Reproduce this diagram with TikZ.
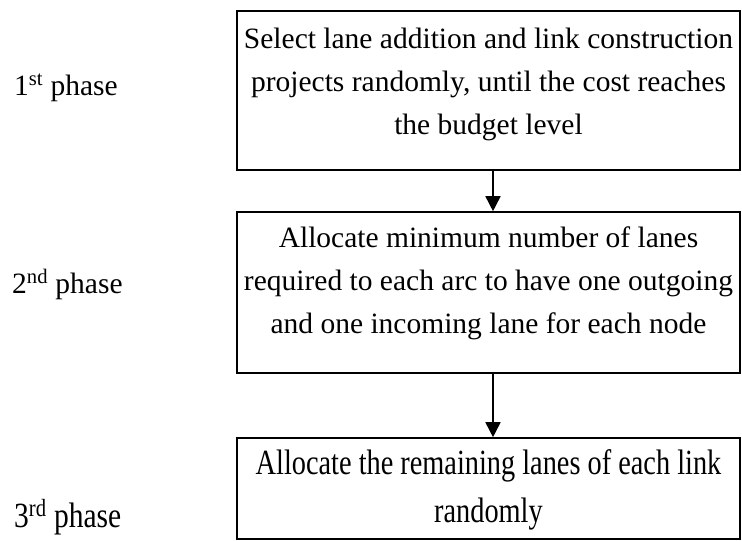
\documentclass[tikz,border=0pt]{standalone}
\usepackage{graphicx}
\usepackage{fontspec}
\setmainfont{Liberation Serif}
\usetikzlibrary{arrows.meta}
\tikzset{
  stage/.style={draw,line width=1.6pt,minimum width=503pt,inner sep=0pt,font=\fontsize{29.5}{43}\selectfont},
  phase/.style={anchor=base west,inner sep=0pt,font=\fontsize{29.5}{43}\selectfont},
  flow/.style={line width=1.6pt,-{Triangle[length=15pt,width=15pt]}}
}

\begin{document}
\begin{tikzpicture}[x=1pt,y=-1pt]
\useasboundingbox (0,0) rectangle (742,541);
\node[phase] (p1) at (14,95) {1\textsuperscript{st} phase};
\node[phase] (p2) at (12,293) {2\textsuperscript{nd} phase};
\node[phase] (p3) at (14,527) {\scalebox{1}[1.2]{3\textsuperscript{rd} phase}};
\node[stage,minimum height=159pt] (s1) at (488.5,90.5) {\raisebox{8pt}[\height][\depth]{\begin{tabular}{@{}c@{}}Select lane addition and link construction\\ projects randomly, until the cost reaches\\ the budget level\end{tabular}}};
\node[stage,minimum height=161pt] (s2) at (488.5,292.5) {\raisebox{11pt}[\height][\depth]{\begin{tabular}{@{}c@{}}Allocate minimum number of lanes\\ required to each arc to have one outgoing\\ and one incoming lane for each node\end{tabular}}};
\node[stage,minimum height=101pt] (s3) at (488.5,488.5) {\scalebox{.96}[1.2]{\fontsize{29.5}{40}\selectfont\begin{tabular}{@{}c@{}}Allocate the remaining lanes of each link\\ randomly\end{tabular}}};
\draw[flow] ([xshift=4.5pt]s1.south) -- ([xshift=4.5pt]s2.north);
\draw[flow] ([xshift=4.5pt]s2.south) -- ([xshift=4.5pt]s3.north);
\end{tikzpicture}
\end{document}
